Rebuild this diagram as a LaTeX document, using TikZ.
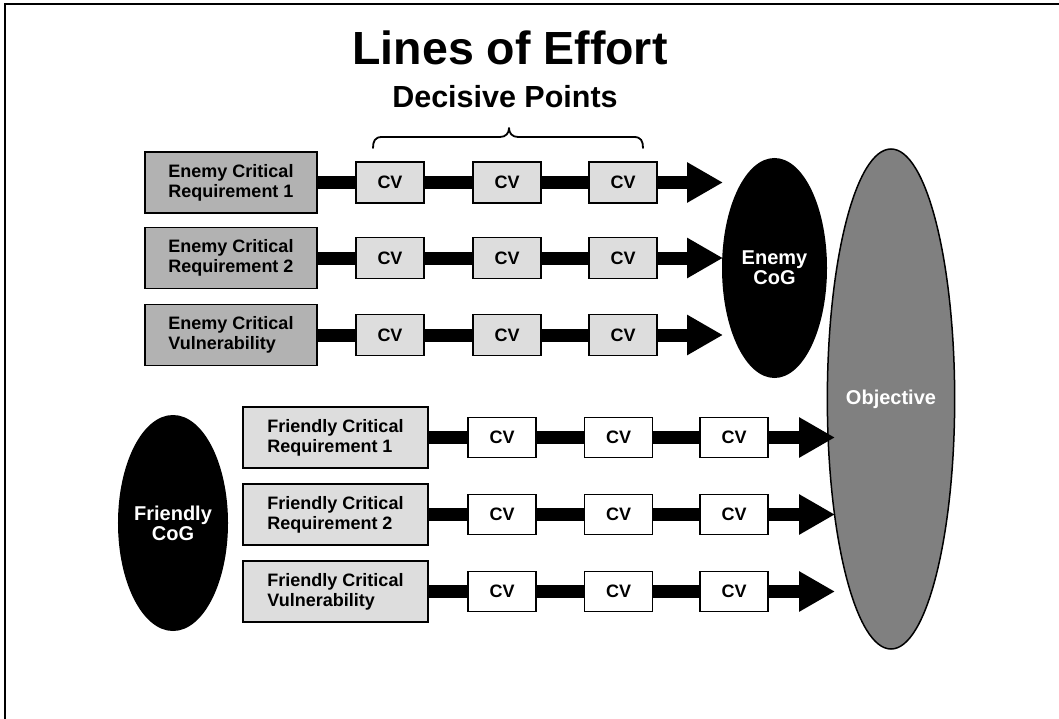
\documentclass[tikz,border=0pt]{standalone}
\usepackage{fontspec}
\setmainfont{Liberation Sans}
\usetikzlibrary{arrows.meta}
\definecolor{enemybox}{HTML}{B2B2B2}
\definecolor{lightbox}{HTML}{DDDDDD}
\definecolor{objgray}{HTML}{808080}
\tikzset{
  crbox/.style={draw=black, line width=1.5pt, minimum width=172pt, minimum height=61pt, inner sep=0pt,
    font=\bfseries\fontsize{18}{20}\selectfont, align=left},
  ecrbox/.style={crbox, fill=enemybox},
  fcrbox/.style={crbox, fill=lightbox, minimum width=185pt},
  cvbox/.style={draw=black, line width=1.5pt, minimum width=68pt, minimum height=41pt, inner sep=0pt,
    font=\bfseries\fontsize{18}{20}\selectfont},
  ecv/.style={cvbox, fill=lightbox},
  fcv/.style={cvbox, fill=white, minimum height=40pt},
  cog/.style={ellipse, fill=black, text=white, inner sep=0pt, align=center,
    font=\bfseries\fontsize{20}{20}\selectfont},
  bar/.style={line width=13pt, black},
  arrowbar/.style={line width=13pt, black, -{Triangle[length=36pt, width=38pt]}},
}
\usetikzlibrary{shapes.geometric}
\begin{document}
\begin{tikzpicture}[x=1pt, y=-1pt]
\useasboundingbox (0,0) rectangle (1059,719);
\fill[white] (0,0) rectangle (1059,719);
% frame
\draw[line width=2pt] (1060,4) -- (5,4) -- (5,720);

% titles
\node[anchor=base, font=\bfseries\fontsize{46.5}{50}\selectfont, inner sep=0pt] (title) at (510,65) {Lines of Effort};
\node[anchor=base, font=\bfseries\fontsize{30.5}{32}\selectfont, inner sep=0pt] (dp) at (505,108) {Decisive Points};

% brace
\draw[line width=1.8pt, line cap=round, line join=round]
  (373,148) .. controls (373,141) and (375,137) .. (382,137) -- (500,137)
  .. controls (506,137) and (509,133) .. (509,128)
  .. controls (509,133) and (512,137) .. (518,137) -- (634,137)
  .. controls (641,137) and (643,141) .. (643,148);

% ellipses
\node[cog, minimum width=105pt, minimum height=220pt] (ecog) at (774.5,268) {Enemy\\CoG};
\node[cog, minimum width=106pt, minimum height=216pt] (fcog) at (173,523) {Friendly\\CoG};
\node[ellipse, draw=black, line width=1.5pt, fill=objgray, text=white, inner sep=0pt,
  minimum width=108pt, minimum height=500pt, font=\bfseries\fontsize{20}{20}\selectfont] (obj) at (891,399) {Objective};

% enemy rows
\foreach \r/\y/\a/\b in {1/182.5/Enemy Critical/Requirement 1, 2/258/Enemy Critical/Requirement 2, 3/335/Enemy Critical/Vulnerability}{
  \node[ecrbox] (e\r) at (231,\y) {\a\\\b};
  \node[ecv] (e\r c1) at (390,\y) {CV};
  \node[ecv] (e\r c2) at (507,\y) {CV};
  \node[ecv] (e\r c3) at (623,\y) {CV};
  \coordinate (e\r t) at (723,\y);
  \draw[bar] (e\r.east) -- (e\r c1.west);
  \draw[bar] (e\r c1.east) -- (e\r c2.west);
  \draw[bar] (e\r c2.east) -- (e\r c3.west);
  \draw[arrowbar] (e\r c3.east) -- (e\r t);
}

% friendly rows
\foreach \r/\y/\a/\b in {1/437.5/Friendly Critical/Requirement 1, 2/514.5/Friendly Critical/Requirement 2, 3/591.5/Friendly Critical/Vulnerability}{
  \node[fcrbox] (f\r) at (335.5,\y) {\a\\\b};
  \node[fcv] (f\r c1) at (502,\y) {CV};
  \node[fcv] (f\r c2) at (618.5,\y) {CV};
  \node[fcv] (f\r c3) at (734,\y) {CV};
  \coordinate (f\r t) at (835,\y);
  \draw[bar] (f\r.east) -- (f\r c1.west);
  \draw[bar] (f\r c1.east) -- (f\r c2.west);
  \draw[bar] (f\r c2.east) -- (f\r c3.west);
  \draw[arrowbar] (f\r c3.east) -- (f\r t);
}
\end{tikzpicture}
\end{document}
